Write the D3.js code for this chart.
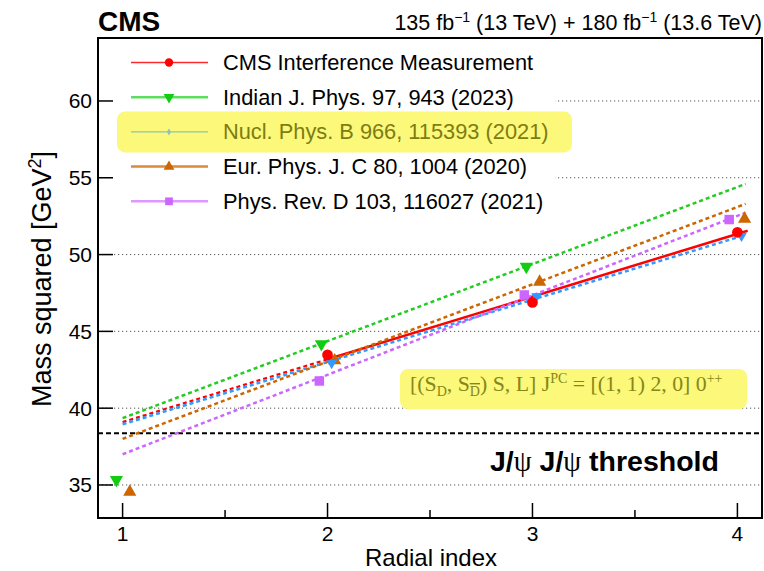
<!DOCTYPE html>
<html><head><meta charset="utf-8">
<script src="https://cdn.jsdelivr.net/npm/d3@7"></script>
<style>body{margin:0;background:#fff}svg{display:block}</style>
</head><body>
<svg id="c" width="764" height="571"></svg>
<script>
// ---------- data ----------
const radialIndex = [1, 2, 3, 4];
const seriesNames = ["CMS Interference Measurement", "Indian J. Phys. 97, 943 (2023)", "Nucl. Phys. B 966, 115393 (2021)", "Eur. Phys. J. C 80, 1004 (2020)", "Phys. Rev. D 103, 116027 (2021)"];
const cmsMass2 = [null, 43.47, 46.88, 51.45];
const indianMass2 = [35.33, 44.18, 49.22, null];
const nuclMass2 = [null, 42.94, 47.28, 51.22];
const eurMass2 = [34.55, 43.10, 48.22, 52.32];
const prdMass2 = [null, 41.77, 47.37, 52.28];
// linear trend lines: value at start / end radial index
const fitFrom = [1, 1, 1, 1, 1];
const fitTo = [4.05, 4.04, 4.02, 4.04, 4.04];
const fitStartVal = [39.1, 39.35, 38.95, 38.0, 37.0];
const fitEndVal = [51.55, 54.6, 51.2, 53.3, 52.73];
const cmsSolidFrom = 2;
const thresholdMass2 = 38.36;
const yTicks = [35, 40, 45, 50, 55, 60];
const xTicks = [1, 2, 3, 4];
const xMinor = [1.5, 2.5, 3.5];

// ---------- style ----------
const styles = [
  {color: "#ff0000", marker: "circle", size: 90, dx: 0, legColor: "#ff2a2a", legW: 1.5, legMarkerColor: "#ff0000", legSize: 55, fitColor: "#ff0000"},
  {color: "#11cc11", marker: "triDown", size: 75, dx: -0.03, legColor: "#5fdd5f", legW: 2.5, legMarkerColor: "#11cc11", legSize: 50, fitColor: "#22cc22"},
  {color: "#3399ff", marker: "triDown", size: 50, dx: 0.02, legColor: "#8cc4b8", legW: 1.2, legMarkerColor: "#8cc4b8", legSize: 14, legMarker: "diamond", fitColor: "#3399ff"},
  {color: "#cc6600", marker: "triUp", size: 75, dx: 0.035, legColor: "#d98a3c", legW: 2.5, legMarkerColor: "#cc6600", legSize: 50, fitColor: "#cc6600"},
  {color: "#cc66ff", marker: "square", size: 90, dx: -0.04, legColor: "#dd99ff", legW: 2.5, legMarkerColor: "#cc66ff", legSize: 60, fitColor: "#cc66ff"}
];
const allSeries = [cmsMass2, indianMass2, nuclMass2, eurMass2, prdMass2];

const svg = d3.select("#c");
const L = 98, R = 762, T = 38, B = 518;
const x = d3.scaleLinear().domain([0.88, 4.12]).range([L, R]);
const y = d3.scaleLinear().domain([32.85, 64.1]).range([B, T]);
const SANS = "'Liberation Sans', Arial, Helvetica, sans-serif";
const SERIF = "'Liberation Serif', 'Times New Roman', serif";

function sym(kind){
  const m = {circle: d3.symbolCircle, triDown: d3.symbolTriangle, triUp: d3.symbolTriangle, square: d3.symbolSquare, diamond: d3.symbolDiamond};
  return m[kind];
}
function markerPath(kind, size){ return d3.symbol().type(sym(kind)).size(size)(); }
function markerRot(kind){ return kind === "triDown" ? 180 : 0; }

// gridlines
svg.append("g").selectAll("line").data(yTicks).join("line")
  .attr("x1", L).attr("x2", R).attr("y1", d => y(d)).attr("y2", d => y(d))
  .attr("stroke", "#555").attr("stroke-width", 1).attr("stroke-dasharray", "1.2,2.8");

// legend background
svg.append("rect").attr("x", L + 2).attr("y", 44).attr("width", 455).attr("height", 172).attr("fill", "#fff");

// threshold
svg.append("line").attr("x1", L).attr("x2", R).attr("y1", y(thresholdMass2)).attr("y2", y(thresholdMass2))
  .attr("stroke", "#000").attr("stroke-width", 2).attr("stroke-dasharray", "5,3");
const thr = svg.append("text").attr("x", 490).attr("y", 471).attr("font-family", SANS).attr("font-weight", "bold").attr("font-size", 28.5).attr("fill", "#000");
thr.append("tspan").text("J/");
thr.append("tspan").attr("font-family", SERIF).attr("font-weight", "normal").text("ψ");
thr.append("tspan").text(" J/");
thr.append("tspan").attr("font-family", SERIF).attr("font-weight", "normal").text("ψ");
thr.append("tspan").text(" threshold");

// annotation box
svg.append("rect").attr("x", 400).attr("y", 369).attr("width", 347).attr("height", 40).attr("rx", 8)
  .attr("fill", "#fbf87a");
const ann = svg.append("text").attr("x", 410).attr("y", 391).attr("font-family", SERIF).attr("font-size", 21.8).attr("fill", "#86861a");
ann.append("tspan").text("[(S");
ann.append("tspan").attr("font-size", 14).attr("dy", 5).text("D");
ann.append("tspan").attr("dy", -5).text(", S");
ann.append("tspan").attr("font-size", 14).attr("dy", 5).attr("text-decoration", "overline").text("D");
ann.append("tspan").attr("dy", -5).text(") S, L] J");
ann.append("tspan").attr("font-size", 14).attr("dy", -8).text("PC");
ann.append("tspan").attr("dy", 8).text(" = [(1, 1) 2, 0] 0");
ann.append("tspan").attr("font-size", 14).attr("dy", -8).text("++");

// fit lines
const lineGen = d3.line().x(d => x(d[0])).y(d => y(d[1]));
allSeries.forEach((s, i) => {
  const st = styles[i];
  const slope = (fitEndVal[i] - fitStartVal[i]) / (fitTo[i] - fitFrom[i]);
  const at = n => fitStartVal[i] + slope * (n - fitFrom[i]);
  if (i === 0) {
    svg.append("path").attr("d", lineGen([[fitFrom[i], at(fitFrom[i])], [cmsSolidFrom, at(cmsSolidFrom)]]))
      .attr("stroke", st.fitColor).attr("stroke-width", 2.2).attr("fill", "none").attr("stroke-dasharray", "4,3");
    svg.append("path").attr("d", lineGen([[cmsSolidFrom, at(cmsSolidFrom)], [fitTo[i], at(fitTo[i])]]))
      .attr("stroke", st.fitColor).attr("stroke-width", 2.5).attr("fill", "none");
  } else {
    svg.append("path").attr("d", lineGen([[fitFrom[i], at(fitFrom[i])], [fitTo[i], at(fitTo[i])]]))
      .attr("stroke", st.fitColor).attr("stroke-width", 2.5).attr("fill", "none").attr("stroke-dasharray", "4,3");
  }
});

// points
[4, 3, 1, 2, 0].forEach(i => {
  const st = styles[i];
  const pts = radialIndex.map((n, k) => [n, allSeries[i][k]]).filter(d => d[1] != null);
  svg.append("g").selectAll("path").data(pts).join("path")
    .attr("d", markerPath(st.marker, st.size))
    .attr("transform", d => `translate(${x(d[0] + st.dx)},${y(d[1])}) rotate(${markerRot(st.marker)})`)
    .attr("fill", st.color);
});

// legend
const legY0 = 62.5, legDy = 34.7;
seriesNames.forEach((name, i) => {
  const st = styles[i];
  const yy = legY0 + i * legDy;
  if (i === 2) {
    svg.append("rect").attr("x", 117).attr("y", yy - 20.5).attr("width", 455).attr("height", 41).attr("rx", 8).attr("fill", "#fbf87a");
  }
  svg.append("line").attr("x1", 131).attr("x2", 208).attr("y1", yy).attr("y2", yy)
    .attr("stroke", st.legColor).attr("stroke-width", st.legW);
  const mk = st.legMarker || st.marker;
  svg.append("path").attr("d", markerPath(mk, st.legSize))
    .attr("transform", `translate(169,${yy}) rotate(${markerRot(mk)})`).attr("fill", st.legMarkerColor);
  svg.append("text").attr("x", 223).attr("y", yy + 7.5).attr("font-family", SANS).attr("font-size", 21.8)
    .attr("fill", i === 2 ? "#7d7d12" : "#000").text(name);
});

// frame
svg.append("rect").attr("x", L).attr("y", T).attr("width", R - L).attr("height", B - T)
  .attr("fill", "none").attr("stroke", "#000").attr("stroke-width", 2);

// ticks
svg.append("g").selectAll("line").data(yTicks).join("line")
  .attr("x1", L).attr("x2", L + 15).attr("y1", d => y(d)).attr("y2", d => y(d)).attr("stroke", "#000").attr("stroke-width", 1.5);
svg.append("g").selectAll("line").data(xTicks).join("line")
  .attr("x1", d => x(d)).attr("x2", d => x(d)).attr("y1", B).attr("y2", B - 15).attr("stroke", "#000").attr("stroke-width", 1.5);
svg.append("g").selectAll("line").data(xMinor).join("line")
  .attr("x1", d => x(d)).attr("x2", d => x(d)).attr("y1", B).attr("y2", B - 8).attr("stroke", "#000").attr("stroke-width", 1.5);

// tick labels
svg.append("g").selectAll("text").data(yTicks).join("text")
  .attr("x", L - 6).attr("y", d => y(d) + 7.5).attr("text-anchor", "end").attr("font-family", SANS).attr("font-size", 21)
  .text(d => d);
svg.append("g").selectAll("text").data(xTicks).join("text")
  .attr("x", d => x(d)).attr("y", 541).attr("text-anchor", "middle").attr("font-family", SANS).attr("font-size", 21)
  .text(d => d);

// axis titles
svg.append("text").attr("x", 431).attr("y", 566).attr("text-anchor", "middle").attr("font-family", SANS).attr("font-size", 24).text("Radial index");
const yl = svg.append("text").attr("transform", "translate(51,279) rotate(-90)").attr("text-anchor", "middle").attr("font-family", SANS).attr("font-size", 27);
yl.append("tspan").text("Mass squared [GeV");
yl.append("tspan").attr("font-size", 18).attr("dy", -10).text("2");
yl.append("tspan").attr("dy", 10).text("]");

// header
svg.append("text").attr("x", L).attr("y", 31).attr("font-family", SANS).attr("font-weight", "bold").attr("font-size", 28).text("CMS");
const hd = svg.append("text").attr("x", R).attr("y", 30).attr("text-anchor", "end").attr("font-family", SANS).attr("font-size", 21.5);
hd.append("tspan").text("135 fb");
hd.append("tspan").attr("font-size", 14).attr("dy", -8).text("−1");
hd.append("tspan").attr("dy", 8).text(" (13 TeV) + 180 fb");
hd.append("tspan").attr("font-size", 14).attr("dy", -8).text("−1");
hd.append("tspan").attr("dy", 8).text(" (13.6 TeV)");
</script>
</body></html>
